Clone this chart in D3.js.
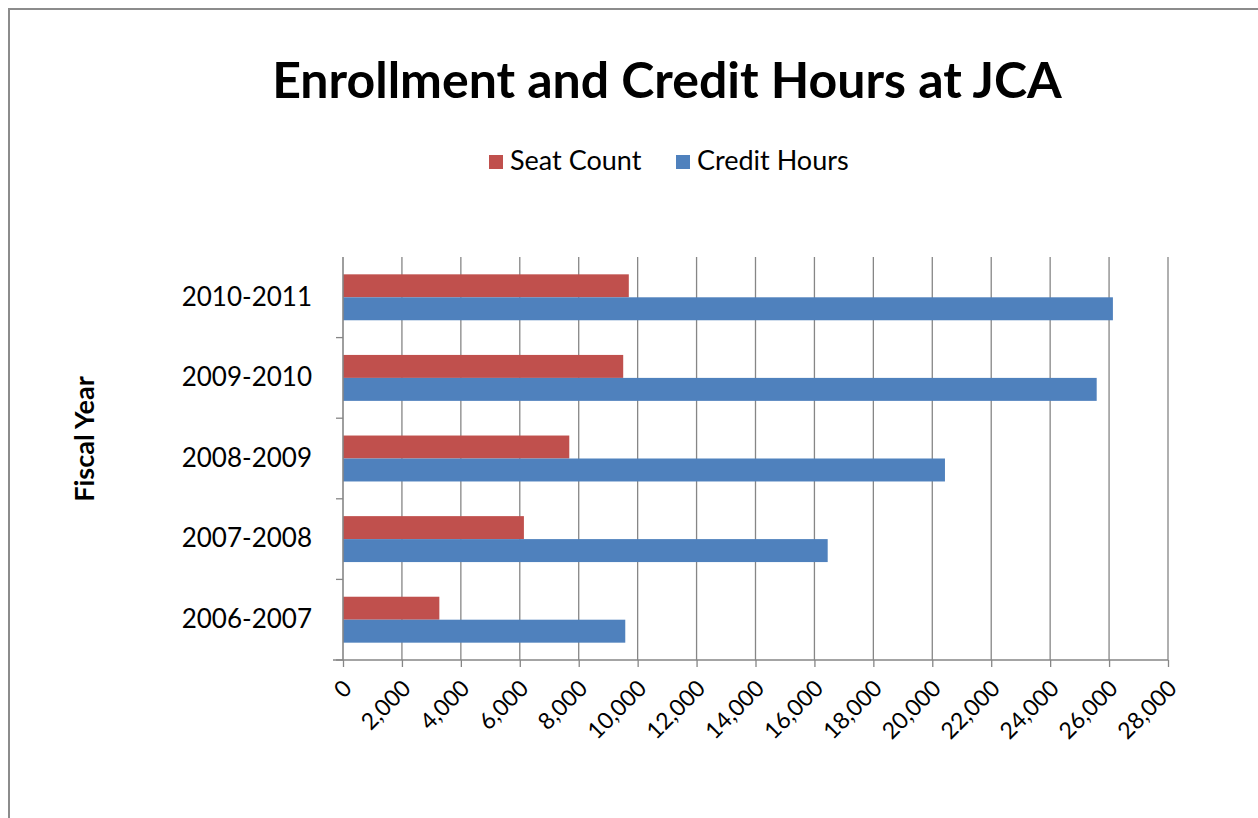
<!DOCTYPE html>
<html>
<head>
<meta charset="utf-8">
<script src="https://cdn.jsdelivr.net/npm/d3@7"></script>
<style>
  html, body { margin: 0; padding: 0; background: #fff; }
  svg { display: block; }
  text { font-family: Lato, "Open Sans", sans-serif; fill: #000; }
</style>
</head>
<body>
<svg id="chart" width="1258" height="818"></svg>
<script>
// ---- data ----
const categories = ["2010-2011", "2009-2010", "2008-2009", "2007-2008", "2006-2007"];
const seriesNames = ["Seat Count", "Credit Hours"];
const seatCount   = [9700, 9510, 7680, 6140, 3270];
const creditHours = [26130, 25580, 20430, 16450, 9580];
const xTicks = [0, 2000, 4000, 6000, 8000, 10000, 12000, 14000, 16000, 18000, 20000, 22000, 24000, 26000, 28000];
const titleText = "Enrollment and Credit Hours at JCA";
const yAxisTitle = "Fiscal Year";

const colors = ["#C0504D", "#4F81BD"];
const svg = d3.select("#chart");

// outer border
svg.append("rect").attr("x", 9).attr("y", 9).attr("width", 1300).attr("height", 900)
  .attr("fill", "none").attr("stroke", "#8c8c8c").attr("stroke-width", 2);

const plot = { left: 343, right: 1168, top: 257, bottom: 660 };

const x = d3.scaleLinear().domain([0, 28000]).range([plot.left, plot.right]);
const y = d3.scaleBand().domain(categories).range([plot.top, plot.bottom]);

// gridlines
svg.append("g").selectAll("line").data(xTicks.slice(1)).join("line")
  .attr("x1", d => x(d)).attr("x2", d => x(d))
  .attr("y1", plot.top).attr("y2", plot.bottom)
  .attr("stroke", "#868686").attr("stroke-width", 1.3);

// bars
const barH = y.bandwidth() * 0.285;
const rows = categories.map((c, i) => ({ c, vals: [seatCount[i], creditHours[i]] }));
const gBars = svg.append("g");
rows.forEach(r => {
  r.vals.forEach((v, j) => {
    gBars.append("rect")
      .attr("x", x(0))
      .attr("y", y(r.c) + y.bandwidth() / 2 - barH + j * barH)
      .attr("width", x(v) - x(0))
      .attr("height", barH)
      .attr("fill", colors[j]);
  });
});

// x axis
const xAxis = d3.axisBottom(x).tickValues(xTicks).tickSize(7).tickSizeOuter(0)
  .tickFormat(d3.format(","));
const gx = svg.append("g").attr("transform", `translate(0,${plot.bottom})`).call(xAxis);
gx.select(".domain").remove();
gx.append("line").attr("x1", plot.left - 10).attr("x2", plot.right).attr("y1", 0).attr("y2", 0)
  .attr("stroke", "#868686").attr("stroke-width", 1.6);
gx.selectAll(".tick line").attr("stroke", "#868686").attr("stroke-width", 1.3);
gx.selectAll(".tick text")
  .attr("font-size", 23).attr("fill", "#000")
  .attr("text-anchor", "end")
  .attr("dy", "0.35em")
  .attr("transform", "translate(4,24) rotate(-45)")
  .attr("y", 0).attr("x", 0);

// y axis
const yAxis = d3.axisLeft(y).tickSize(0).tickPadding(31);
const gy = svg.append("g").attr("transform", `translate(${plot.left},0)`).call(yAxis);
gy.select(".domain").remove();
gy.append("line").attr("x1", 0).attr("x2", 0).attr("y1", plot.top).attr("y2", plot.bottom)
  .attr("stroke", "#868686").attr("stroke-width", 1.6);
gy.selectAll(".tick text").attr("font-size", 26).attr("fill", "#000").attr("font-family", "Lato, sans-serif");
// boundary ticks
const bounds = categories.map(c => y(c)).slice(1).concat([plot.bottom]);
gy.append("g").selectAll("line").data(bounds).join("line")
  .attr("x1", -7).attr("x2", 0).attr("y1", d => d).attr("y2", d => d)
  .attr("stroke", "#868686").attr("stroke-width", 1.3);

// y axis title
svg.append("text")
  .attr("transform", "translate(94,439) rotate(-90)")
  .attr("text-anchor", "middle")
  .attr("font-size", 27).attr("font-weight", "bold")
  .text(yAxisTitle);

// title
svg.append("text")
  .attr("x", 667).attr("y", 98)
  .attr("text-anchor", "middle")
  .attr("font-size", 50).attr("font-weight", "bold")
  .text(titleText);

// legend
const legendItems = [
  { name: seriesNames[0], color: colors[0], x: 489 },
  { name: seriesNames[1], color: colors[1], x: 676 }
];
const gl = svg.append("g");
legendItems.forEach(it => {
  gl.append("rect").attr("x", it.x).attr("y", 155).attr("width", 14).attr("height", 14).attr("fill", it.color);
  gl.append("text").attr("x", it.x + 21).attr("y", 170).attr("font-size", 27).text(it.name);
});
</script>
</body>
</html>
